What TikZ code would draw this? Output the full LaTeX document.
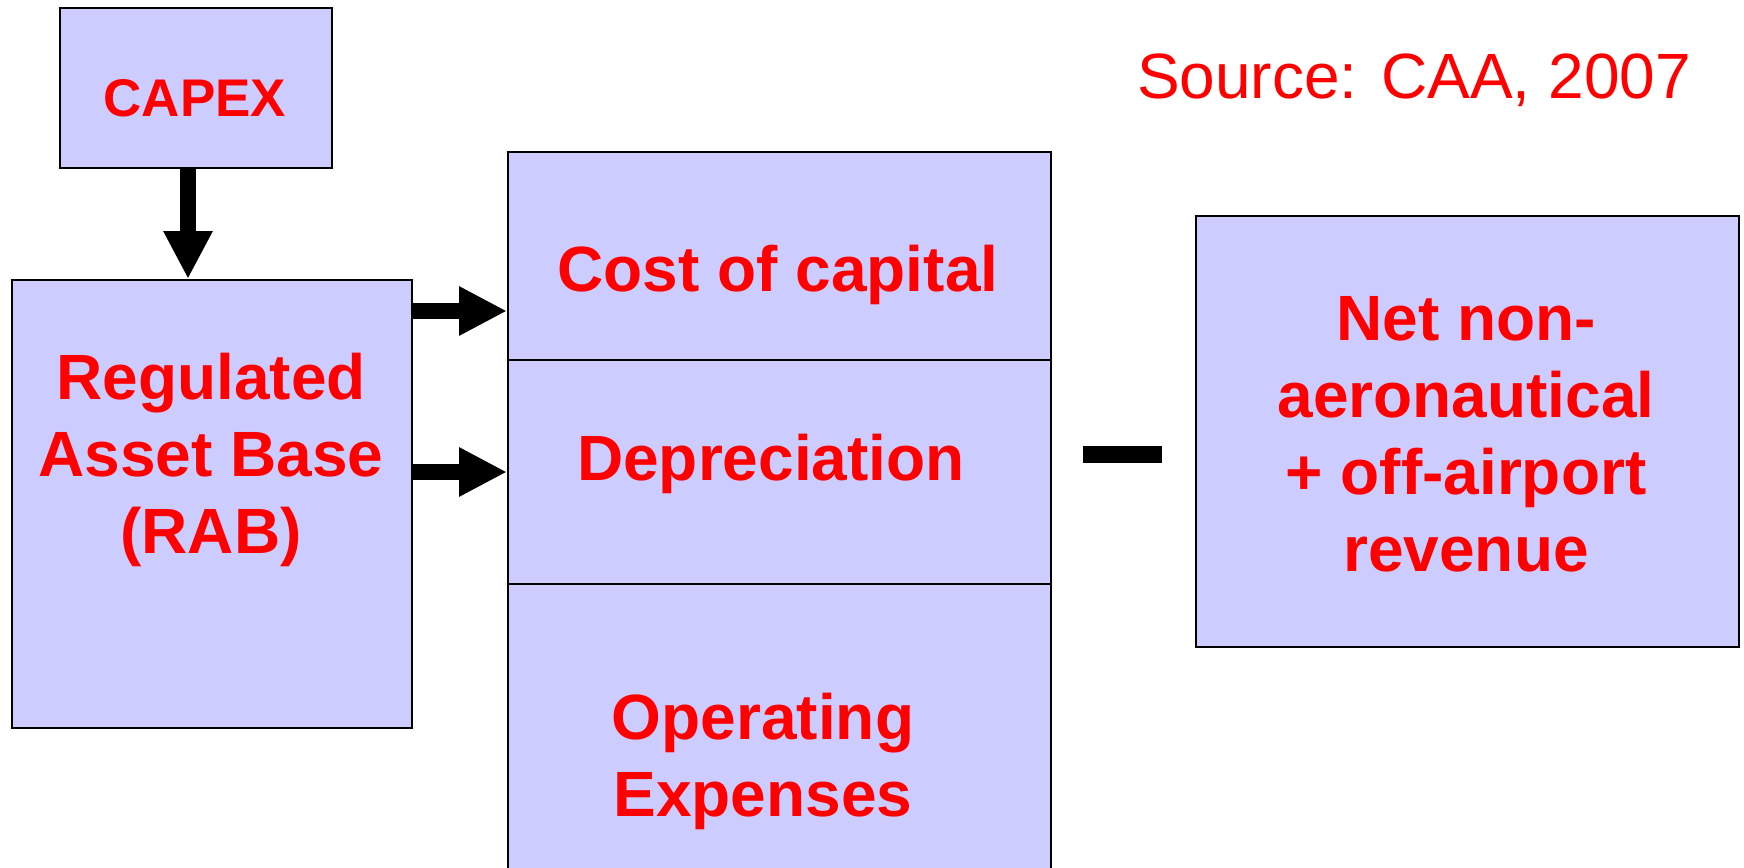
\documentclass[tikz,border=0pt]{standalone}
\usepackage{fontspec}
\setmainfont{Liberation Sans}
\usetikzlibrary{arrows.meta}
\definecolor{boxfill}{HTML}{CCCCFF}
\definecolor{txtred}{HTML}{FF0000}
\begin{document}
\begin{tikzpicture}[x=1pt,y=-1pt,
  box/.style={draw=black, line width=2pt, fill=boxfill, inner sep=0pt, anchor=north west},
  label/.style={text=txtred, font=\fontsize{64}{77}\selectfont\bfseries, align=center, inner sep=0pt},
  bigarrow/.style={line width=16pt, -{Triangle[length=48pt,width=46pt]}}]
  \useasboundingbox (0,0) rectangle (1744,867);
  \clip (0,0) rectangle (1744,867);

  % boxes
  \node[box, minimum width=272pt, minimum height=160pt] (capex) at (59,7) {};
  \node[box, minimum width=400pt, minimum height=448pt] (rab) at (11,279) {};
  \node[box, minimum width=543pt, minimum height=208pt] (cost) at (507,151) {};
  \node[box, minimum width=543pt, minimum height=224pt] (dep) at (507,359) {};
  \node[box, minimum width=543pt, minimum height=320pt] (opex) at (507,583) {};
  \node[box, minimum width=543pt, minimum height=431pt] (rev) at (1195,215) {};

  % texts
  \node[label, font=\fontsize{53}{63}\selectfont\bfseries] (capext) at (195,98) {CAPEX};
  \node[label] (rabt) at (211,460) {Regulated\\Asset Base\\(RAB)};
  \node[label, anchor=base] (costt) at (778,291) {Cost of capital};
  \node[label, anchor=base] (dept) at (771,480) {Depreciation};
  \node[label] (opext) at (763,761) {Operating\\Expenses};
  \node[label] (revt) at (1466,434) {Net non-\\aeronautical\\+ off-airport\\revenue};
  \node[text=txtred, font=\fontsize{64}{77}\selectfont, inner sep=0pt, anchor=base] (src) at (1414,98) {Source: CAA, 2007};

  % minus sign
  \node[fill=black, minimum width=79pt, minimum height=17pt, inner sep=0pt] (minus) at (1122,454) {};

  % arrows
  \draw[bigarrow] ([xshift=-8pt]capex.south) -- ([xshift=-24pt]rab.north);
  \draw[bigarrow] ([yshift=-32pt]rab.north east) -- ([yshift=-32pt]rab.north east -| cost.west);
  \draw[bigarrow] ([yshift=-193pt]rab.north east) -- ([yshift=-193pt]rab.north east -| dep.west);
\end{tikzpicture}
\end{document}
